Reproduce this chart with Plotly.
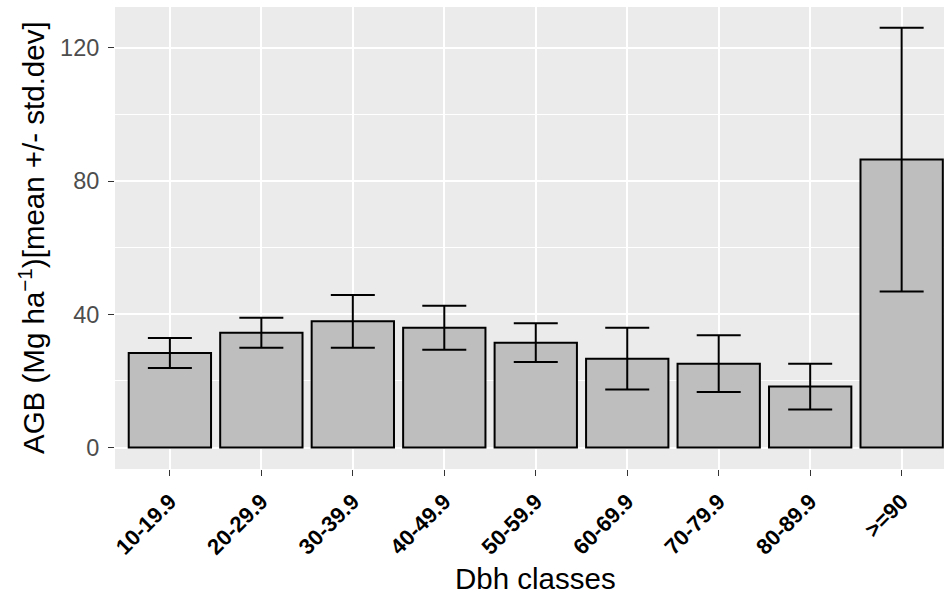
import plotly.graph_objects as go

categories = ["10-19.9", "20-29.9", "30-39.9", "40-49.9", "50-59.9",
              "60-69.9", "70-79.9", "80-89.9", ">=90"]
agb_mean = [28.4, 34.5, 37.9, 36.0, 31.5, 26.7, 25.2, 18.3, 86.5]
agb_sd = [4.5, 4.5, 7.9, 6.6, 5.8, 9.3, 8.5, 6.9, 39.6]
y_ticks = [0, 40, 80, 120]

W, H = 944, 601
ML, MR, MT, MB = 115, 0, 7, 132

fig = go.Figure()
fig.add_trace(go.Bar(
    x=list(range(len(categories))),
    y=agb_mean,
    width=0.9,
    marker=dict(color="#BEBEBE", line=dict(color="black", width=2)),
    error_y=dict(type="data", array=agb_sd, visible=True,
                 color="black", thickness=2, width=22),
    showlegend=False,
))

fig.update_layout(
    width=W, height=H,
    margin=dict(l=ML, r=MR, t=MT, b=MB, pad=0, autoexpand=False),
    paper_bgcolor="white",
    plot_bgcolor="#EBEBEB",
    font=dict(family="Liberation Sans, Arial, sans-serif"),
    xaxis=dict(
        tickmode="array",
        tickvals=list(range(len(categories))),
        ticktext=categories,
        range=[-0.6, 8.463],
        automargin=False,
        showgrid=True, gridcolor="white", gridwidth=2.2,
        zeroline=False,
        ticks="outside", ticklen=6, tickwidth=1.2, tickcolor="#333333",
        tickangle=-45,
        tickfont=dict(size=22, color="black", family="Liberation Sans, Arial, sans-serif", weight="bold"),
        ticklabelstandoff=4,
        showline=False,
    ),
    yaxis=dict(
        tickmode="array",
        tickvals=y_ticks,
        ticktext=[str(v) for v in y_ticks],
        range=[-6.44, 132.3],
        automargin=False,
        showgrid=True, gridcolor="white", gridwidth=2.2,
        zeroline=False,
        ticks="outside", ticklen=6, tickwidth=1.2, tickcolor="#333333",
        tickfont=dict(size=23.5, color="#4D4D4D"),
        ticklabelstandoff=4,
        minor=dict(tickmode="array", tickvals=[20, 60, 100], showgrid=True,
                   gridcolor="white", gridwidth=1.1, ticks=""),
        showline=False,
    ),
)

fig.add_annotation(
    text="Dbh classes", xref="x", yref="paper", x=4, y=-0.238,
    xanchor="center", yanchor="middle", showarrow=False,
    font=dict(size=29.5, color="black"),
)
fig.add_annotation(
    text="AGB (Mg ha<sup>−1</sup>)[mean +/- std.dev]",
    xref="paper", yref="paper", x=(31 - ML) / (W - ML - MR), y=0.5,
    xanchor="center", yanchor="middle", textangle=-90, showarrow=False,
    font=dict(size=29.5, color="black"),
)

fig.write_html("out.html",
               config={"displayModeBar": False},
               post_script="document.body.style.margin='0';document.body.style.overflow='hidden';")
